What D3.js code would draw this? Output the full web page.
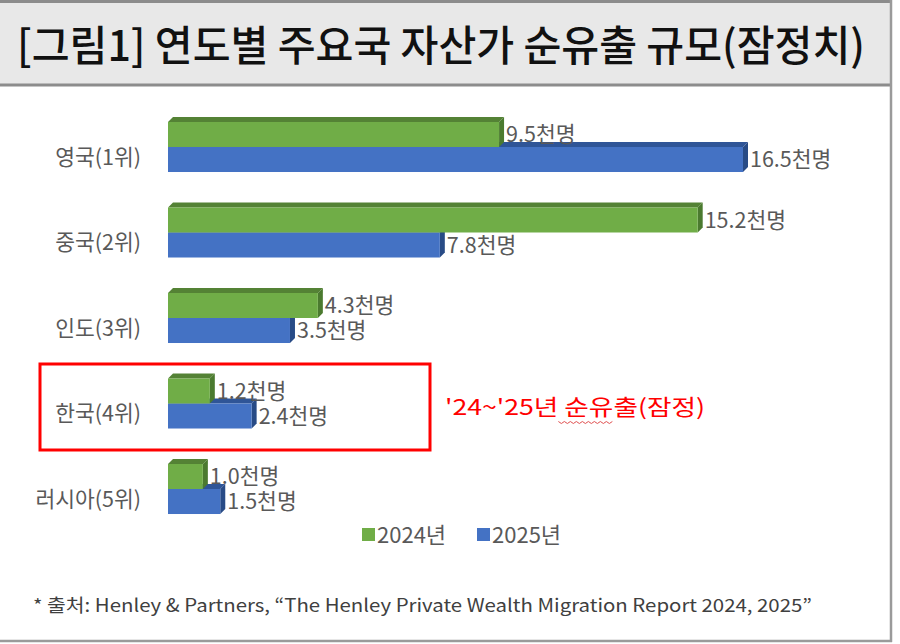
<!DOCTYPE html>
<html>
<head>
<meta charset="utf-8">
<script src="https://cdn.jsdelivr.net/npm/d3@7"></script>
<style>
  body { margin: 0; background: #fff; }
  svg { display: block; font-family: "Noto Sans CJK KR", "Noto Sans", sans-serif; }
</style>
</head>
<body>
<svg id="chart" width="900" height="644"></svg>
<script>
// data
var categories = ["영국(1위)", "중국(2위)", "인도(3위)", "한국(4위)", "러시아(5위)"];
var years = ["2024년", "2025년"];
var values2024 = [9.5, 15.2, 4.3, 1.2, 1.0];
var values2025 = [16.5, 7.8, 3.5, 2.4, 1.5];
var unitLabel = "천명";
var titleText = "[그림1] 연도별 주요국 자산가 순유출 규모(잠정치)";
var noteText = "'24~'25년 순유출(잠정)";
var sourceText = "* 출처: Henley & Partners, \u201CThe Henley Private Wealth Migration Report 2024, 2025\u201D";

make_chart = function () {

    var svg = d3.select("#chart");
    var depth = 5;   // fake 3d offset

    var colors = {
        "2024년": { front: "#70ad47", top: "#548235", side: "#4b7a2f" },
        "2025년": { front: "#4472c4", top: "#2f5597", side: "#284b86" }
    };

    // frame + title strip
    svg.append("rect").attr("x", 0).attr("y", 0).attr("width", 891).attr("height", 85)
        .attr("fill", "#e8e8e8");
    svg.append("line").attr("x1", 0).attr("x2", 891).attr("y1", 1.5).attr("y2", 1.5)
        .attr("stroke", "#8c8c8c").attr("stroke-width", 3);
    svg.append("line").attr("x1", 0).attr("x2", 891).attr("y1", 85).attr("y2", 85)
        .attr("stroke", "#8c8c8c").attr("stroke-width", 3);
    svg.append("line").attr("x1", 891).attr("x2", 891).attr("y1", 0).attr("y2", 642)
        .attr("stroke", "#9a9a9a").attr("stroke-width", 2.5);
    svg.append("line").attr("x1", 0).attr("x2", 892).attr("y1", 641).attr("y2", 641)
        .attr("stroke", "#9a9a9a").attr("stroke-width", 2.5);

    svg.append("text")
        .attr("x", 17).attr("y", 61)
        .attr("font-size", 42)
        .attr("font-weight", 500)
        .attr("fill", "#111")
        .attr("textLength", 848)
        .attr("lengthAdjust", "spacingAndGlyphs")
        .text(titleText);

    // scales
    var x = d3.scaleLinear()
        .domain([0, 16.5])
        .range([168, 743]);

    var y = d3.scaleBand()
        .domain(categories)
        .range([86.5, 549.5])
        .paddingInner(0.415)
        .paddingOuter(0.415);

    var y1 = d3.scaleBand()
        .domain(years)
        .range([0, y.bandwidth()]);

    var rows = categories.map(function (c, i) {
        return { cat: c, vals: [
            { year: "2024년", value: values2024[i] },
            { year: "2025년", value: values2025[i] }
        ] };
    });

    // category labels
    svg.append("g")
        .attr("font-size", 21.5)
        .attr("fill", "#595959")
        .attr("text-anchor", "end")
        .selectAll("text")
        .data(categories)
        .join("text")
        .attr("x", 141)
        .attr("y", d => y(d) + y.bandwidth() / 2 + 10)
        .attr("dy", "0.35em")
        .text(d => d);

    // bars, 2025 first so 2024 sits on top
    var bars = [];
    rows.forEach(function (r) {
        bars.push({ cat: r.cat, year: r.vals[1].year, value: r.vals[1].value });
    });
    rows.forEach(function (r) {
        bars.push({ cat: r.cat, year: r.vals[0].year, value: r.vals[0].value });
    });

    var g = svg.append("g")
        .selectAll("g")
        .data(bars)
        .join("g");

    g.append("polygon")
        .attr("points", function (d) {
            var x0 = x(0), x1 = x(d.value), yt = y(d.cat) + y1(d.year);
            return [[x0, yt], [x0 + depth, yt - depth], [x1 + depth, yt - depth], [x1, yt]].join(" ");
        })
        .attr("fill", d => colors[d.year].top);

    g.append("polygon")
        .attr("points", function (d) {
            var x1 = x(d.value), yt = y(d.cat) + y1(d.year), h = y1.bandwidth();
            return [[x1, yt], [x1 + depth, yt - depth], [x1 + depth, yt + h - depth], [x1, yt + h]].join(" ");
        })
        .attr("fill", d => colors[d.year].side);

    g.append("rect")
        .attr("x", x(0))
        .attr("y", d => y(d.cat) + y1(d.year))
        .attr("width", d => x(d.value) - x(0))
        .attr("height", y1.bandwidth())
        .attr("fill", d => colors[d.year].front);

    // value labels
    svg.append("g")
        .attr("font-size", 21.5)
        .attr("fill", "#595959")
        .selectAll("text")
        .data(bars)
        .join("text")
        .attr("x", d => x(d.value) + depth + 2)
        .attr("y", d => y(d.cat) + y1(d.year) + y1.bandwidth() / 2)
        .attr("dy", "0.35em")
        .text(d => d3.format(".1f")(d.value) + unitLabel);

    // legend
    var legend = svg.append("g")
        .attr("font-size", 22)
        .attr("fill", "#595959")
        .selectAll("g")
        .data(years)
        .join("g")
        .attr("transform", (d, i) => `translate(${362 + i * 115},528)`);

    legend.append("rect")
        .attr("width", 13).attr("height", 13)
        .attr("fill", d => colors[d].front);

    legend.append("text")
        .attr("x", 15).attr("y", 7)
        .attr("dy", "0.35em")
        .text(d => d);

    // highlight box around Korea
    svg.append("rect")
        .attr("x", 40).attr("y", 364)
        .attr("width", 390).attr("height", 86)
        .attr("fill", "none")
        .attr("stroke", "#ff0000")
        .attr("stroke-width", 3);

    var note = svg.append("text")
        .attr("x", 445).attr("y", 407)
        .attr("dy", "0.35em")
        .attr("font-size", 22)
        .attr("fill", "#ff0000")
        .attr("textLength", 260)
        .attr("lengthAdjust", "spacingAndGlyphs")
        .text(noteText);

    // squiggle under 순유출
    var full = note.node().getComputedTextLength();
    var scale = 260 / full;
    var start = 445 + note.node().getSubStringLength(0, 8) * scale;
    var len = note.node().getSubStringLength(8, 3) * scale;
    var pts = d3.range(0, Math.floor(len / 3) + 1).map(i => [start + i * 3, 422 + (i % 2 ? 1.5 : -0.5)]);
    svg.append("path")
        .attr("d", d3.line()(pts))
        .attr("fill", "none")
        .attr("stroke", "#e05050")
        .attr("stroke-width", 1);

    // source
    svg.append("text")
        .attr("x", 33).attr("y", 606)
        .attr("dy", "0.35em")
        .attr("font-size", 18)
        .attr("fill", "#404040")
        .attr("textLength", 779)
        .attr("lengthAdjust", "spacingAndGlyphs")
        .text(sourceText);
}

make_chart();
</script>
</body>
</html>
